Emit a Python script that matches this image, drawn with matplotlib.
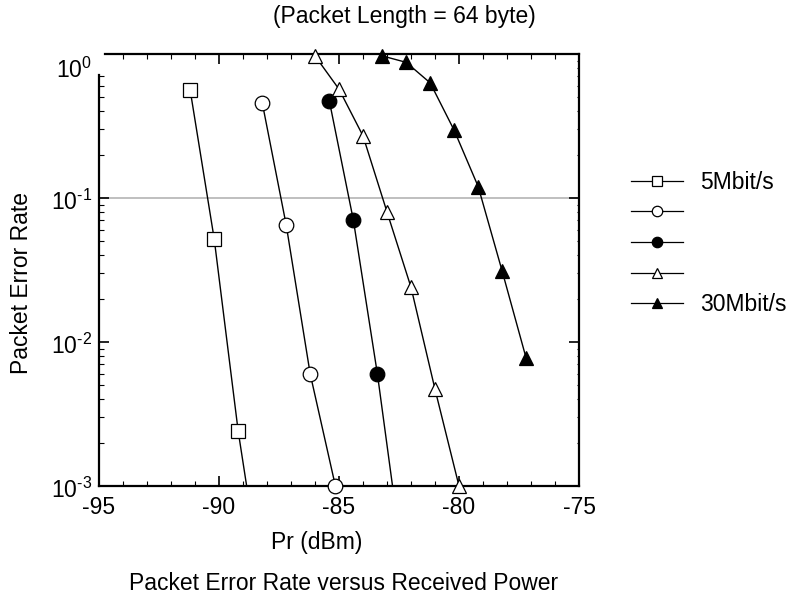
import matplotlib
matplotlib.use("Agg")
import matplotlib.pyplot as plt
from matplotlib.lines import Line2D
from matplotlib.transforms import ScaledTranslation
import numpy as np

# data (Pr in dBm, packet error rate)
pr_5m = [-91.2, -90.2, -89.2, -88.2]
per_5m = [0.56, 0.052, 0.0024, 0.0002]

pr_open_circle = [-88.2, -87.2, -86.2, -85.15]
per_open_circle = [0.46, 0.065, 0.006, 0.001]

pr_filled_circle = [-85.4, -84.4, -83.4, -82.4]
per_filled_circle = [0.47, 0.07, 0.006, 0.00035]

pr_open_tri = [-86.0, -85.0, -84.0, -83.0, -82.0, -81.0, -80.0]
per_open_tri = [0.97, 0.57, 0.27, 0.08, 0.024, 0.0047, 0.001]

pr_30m = [-83.2, -82.2, -81.2, -80.2, -79.2, -78.2, -77.2]
per_30m = [0.97, 0.875, 0.63, 0.295, 0.12, 0.031, 0.0077]

legend_labels = ["5Mbit/s", "", "", "", "30Mbit/s"]
x_ticks = [-95, -90, -85, -80, -75]
y_ticks = [1e-3, 1e-2, 1e-1, 1]
y_tick_labels = [r'$\mathdefault{10^{\text{-3}}}$', r'$\mathdefault{10^{\text{-2}}}$',
                 r'$\mathdefault{10^{\text{-1}}}$', r'$\mathdefault{10^{0}}$']

plt.rcParams['font.family'] = ['Liberation Sans', 'DejaVu Sans']
plt.rcParams['mathtext.fontset'] = 'custom'
plt.rcParams['mathtext.rm'] = 'Liberation Sans'
plt.rcParams['mathtext.default'] = 'regular'
plt.rcParams['axes.unicode_minus'] = False

FS = 16.5
W, H = 793, 601

fig = plt.figure(figsize=(W / 100, H / 100), dpi=100)
ax = fig.add_axes([99 / W, 1 - 486 / H, 480 / W, 432 / H])

series = [
    (pr_5m, per_5m, 's', 'white'),
    (pr_open_circle, per_open_circle, 'o', 'white'),
    (pr_filled_circle, per_filled_circle, 'o', 'black'),
    (pr_open_tri, per_open_tri, '^', 'white'),
    (pr_30m, per_30m, '^', 'black'),
]

ax.axhline(0.1, color='#b4b4b4', lw=1.2, zorder=1)

handles = []
for xs, ys, mk, fc in series:
    xs = np.array(xs)
    ys = np.array(ys)
    # line is clipped at the frame, markers on the frame are drawn whole
    ax.plot(xs, ys, color='black', lw=1.0, zorder=2)
    keep = ys >= 1e-3
    ax.plot(xs[keep], ys[keep], ls='none', marker=mk, ms=10.5, mfc=fc, mec='black',
            mew=0.9, zorder=3, clip_on=False)
    handles.append(Line2D([], [], color='black', lw=0.9, marker=mk, ms=7.5, mfc=fc,
                          mec='black', mew=0.9))

ax.set_yscale('log')
ax.set_xlim(-95, -75)
ax.set_ylim(1e-3, 1)

ax.set_xticks(x_ticks)
ax.set_xticks(np.arange(-95, -74, 1), minor=True)
ax.set_yticks(y_ticks, labels=y_tick_labels)
minor_y = [s * 10.0 ** e for e in (-3, -2, -1) for s in range(2, 10) if s * 10.0 ** e < 0.75]
ax.set_yticks(minor_y, minor=True)
ax.yaxis.set_minor_formatter(plt.NullFormatter())

ax.tick_params(which='both', direction='in', top=True, right=True, labelsize=FS)
ax.tick_params(which='major', length=7.2, width=1.2)
ax.tick_params(which='minor', length=3.6, width=0.8, right=False)
ax.tick_params(axis='x', pad=7)
ax.tick_params(axis='y', pad=5.0)

# tiny minor ticks on the right side
sec = ax.secondary_yaxis('right')
sec.tick_params(which='major', length=0, labelright=False)
sec.tick_params(which='minor', direction='in', length=1.5, width=0.8, labelright=False)
sec.spines['right'].set_visible(False)

for s in ax.spines.values():
    s.set_linewidth(1.6)
ax.spines['left'].set_bounds(1e-3, 10 ** (-21 / 144))
ax.spines['top'].set_bounds(-94.75, -75)

# no ticks in the open top-left corner
ax.yaxis.get_major_ticks()[-1].tick1line.set_visible(False)
ax.xaxis.get_major_ticks()[0].tick2line.set_visible(False)
for tk in ax.yaxis.get_major_ticks():
    lab = tk.label1
    shift = -0.14 if tk is ax.yaxis.get_major_ticks()[-1] else -0.02
    lab.set_transform(lab.get_transform() + ScaledTranslation(0, shift, fig.dpi_scale_trans))

ax.legend(handles, legend_labels, loc='center left', bbox_to_anchor=(631 / W, 1 - 243.5 / H),
          bbox_transform=fig.transFigure, frameon=False, fontsize=FS, handlelength=2.27,
          handletextpad=0.74, labelspacing=0.33, borderpad=0, borderaxespad=0)

fig.text(404 / W, 1 - 17 / H, "(Packet Length = 64 byte)", ha='center', va='center', fontsize=FS)
fig.text(317 / W, 1 - 542 / H, "Pr (dBm)", ha='center', va='center', fontsize=FS)
fig.text(22 / W, 1 - 283 / H, "Packet Error Rate", ha='center', va='center', rotation=90, fontsize=FS)
fig.text(344 / W, 1 - 583 / H, "Packet Error Rate versus Received Power", ha='center', va='center',
         fontsize=FS)

fig.savefig("out.png", dpi=100)
